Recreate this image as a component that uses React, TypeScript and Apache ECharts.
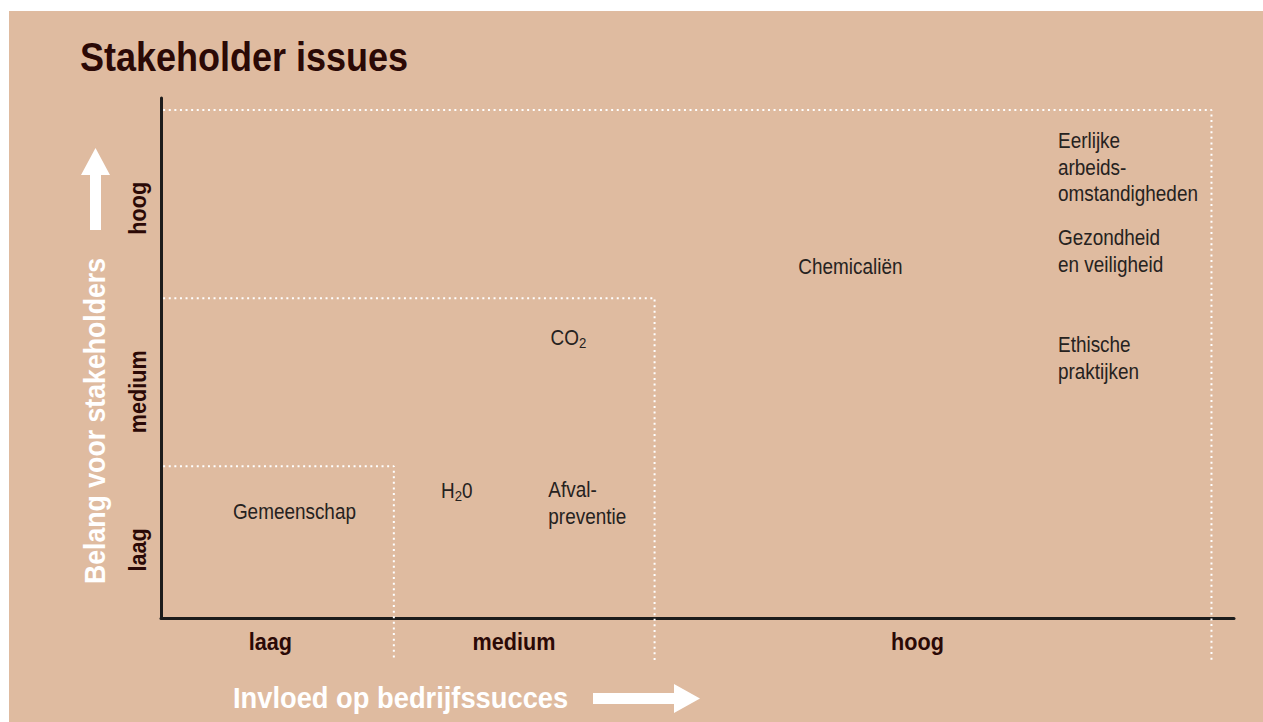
import React, { useEffect, useRef } from "react";
import * as echarts from "echarts";

// Band names on both axes
const bandNames = ["laag", "medium", "hoog"];
// Label positions (data units) for axis band names
const xBandLabelX = [10.2, 32.9, 70.5];
const yBandLabelY = [13.1, 43.5, 78.8];
// Outer corners of the three nested dotted zones: [x, y]
const zoneCorners: [number, number][] = [
  [21.7, 29.2],
  [46.0, 61.5],
  [97.9, 97.7],
];
const zoneBottom = -8.1;

// Issues
const issueNames = [
  "Gemeenschap",
  "H{sub|2}0",
  "Afval-\npreventie",
  "CO{sub|2}",
  "Chemicaliën",
  "Eerlijke\narbeids-\nomstandigheden",
  "Gezondheid\nen veiligheid",
  "Ethische\npraktijken",
];
const issueX = [6.7, 26.1, 36.1, 36.3, 59.4, 83.6, 83.6, 83.6];
const issueY = [20.4, 24.6, 22.1, 54.0, 67.5, 86.7, 70.6, 50.0];

const BG = "#dfbba0";
const FONT = "'Liberation Sans', Arial, sans-serif";
const DARK = "#2b0906";
const INK = "#262220";

export default function App() {
  const ref = useRef<HTMLDivElement>(null);
  useEffect(() => {
    document.body.style.margin = "0";
    if (!ref.current) return;
    const chart = echarts.init(ref.current, undefined, { renderer: "svg" });

    const zoneSeries = zoneCorners.map((c, i) => ({
      type: "line",
      name: "zone" + i,
      data: [
        [0.2, c[1]],
        [c[0], c[1]],
        [c[0], zoneBottom],
      ],
      symbol: "none",
      clip: false,
      silent: true,
      lineStyle: { color: "#ffffff", width: 2, type: [2, 3.6] },
      z: 1,
    }));

    chart.setOption({
      animation: false,
      backgroundColor: "#ffffff",
      grid: { left: 161, right: 29, top: 98, bottom: 104 },
      xAxis: {
        type: "value",
        min: 0,
        max: 100,
        axisLine: { show: true, lineStyle: { color: "#1c1c1c", width: 3 } },
        axisTick: { show: false },
        axisLabel: { show: false },
        splitLine: { show: false },
      },
      yAxis: {
        type: "value",
        min: 0,
        max: 100,
        axisLine: { show: true, lineStyle: { color: "#1c1c1c", width: 3 } },
        axisTick: { show: false },
        axisLabel: { show: false },
        splitLine: { show: false },
      },
      graphic: [
        {
          type: "rect",
          z: -100,
          silent: true,
          shape: { x: 9, y: 11, width: 1254, height: 711 },
          style: { fill: BG },
        },
        {
          type: "text",
          x: 80,
          y: 57,
          scaleX: 0.9,
          style: {
            text: "Stakeholder issues",
            fontFamily: FONT,
            fontWeight: "bold",
            fontSize: 40,
            fill: DARK,
            verticalAlign: "middle",
          },
        },
        {
          type: "text",
          x: 94,
          y: 421,
          rotation: Math.PI / 2,
          scaleX: 0.89,
          style: {
            text: "Belang voor stakeholders",
            fontFamily: FONT,
            fontWeight: "bold",
            fontSize: 30,
            fill: "#ffffff",
            align: "center",
            verticalAlign: "middle",
          },
        },
        {
          type: "polygon",
          shape: {
            points: [
              [95.5, 148],
              [110, 175],
              [101, 175],
              [101, 230],
              [90, 230],
              [90, 175],
              [81, 175],
            ],
          },
          style: { fill: "#ffffff" },
        },
        {
          type: "text",
          x: 233,
          y: 698,
          scaleX: 0.91,
          style: {
            text: "Invloed op bedrijfssucces",
            fontFamily: FONT,
            fontWeight: "bold",
            fontSize: 30,
            fill: "#ffffff",
            align: "left",
            verticalAlign: "middle",
          },
        },
        {
          type: "polygon",
          shape: {
            points: [
              [593, 693],
              [674, 693],
              [674, 684],
              [700, 698.5],
              [674, 713],
              [674, 704],
              [593, 704],
            ],
          },
          style: { fill: "#ffffff" },
        },
      ],
      series: [
        ...zoneSeries,
        {
          type: "custom",
          name: "issues",
          clip: false,
          silent: true,
          data: issueNames.map((n, i) => ({ name: n, value: [issueX[i], issueY[i]] })),
          renderItem: (params: any, api: any) => {
            const p = api.coord([api.value(0), api.value(1)]);
            return {
              type: "text",
              x: p[0],
              y: p[1],
              scaleX: 0.88,
              style: {
                text: issueNames[params.dataIndex],
                fontFamily: FONT,
                fontSize: 21.5,
                lineHeight: 26.5,
                fill: INK,
                align: "left",
                verticalAlign: "middle",
                rich: {
                  sub: {
                    fontFamily: FONT,
                    fontSize: 15,
                    fill: INK,
                    padding: [14, 0, 0, 0],
                    verticalAlign: "bottom",
                  },
                },
              },
            };
          },
          z: 5,
        },
        {
          type: "custom",
          name: "xBands",
          clip: false,
          silent: true,
          data: bandNames.map((n, i) => ({ name: n, value: [xBandLabelX[i], -4.6] })),
          renderItem: (params: any, api: any) => {
            const p = api.coord([api.value(0), api.value(1)]);
            return {
              type: "text",
              x: p[0],
              y: p[1],
              scaleX: 0.9,
              style: {
                text: bandNames[params.dataIndex],
                fontFamily: FONT,
                fontWeight: "bold",
                fontSize: 24,
                fill: DARK,
                align: "center",
                verticalAlign: "middle",
              },
            };
          },
        },
        {
          type: "custom",
          name: "yBands",
          clip: false,
          silent: true,
          data: bandNames.map((n, i) => ({ name: n, value: [-2.14, yBandLabelY[i]] })),
          renderItem: (params: any, api: any) => {
            const p = api.coord([api.value(0), api.value(1)]);
            return {
              type: "text",
              x: p[0],
              y: p[1],
              rotation: Math.PI / 2,
              scaleX: 0.9,
              style: {
                text: bandNames[params.dataIndex],
                fontFamily: FONT,
                fontWeight: "bold",
                fontSize: 24,
                fill: DARK,
                align: "center",
                verticalAlign: "middle",
              },
            };
          },
        },
      ],
    });
    return () => chart.dispose();
  }, []);
  return <div ref={ref} style={{ width: 1263, height: 722 }} />;
}
